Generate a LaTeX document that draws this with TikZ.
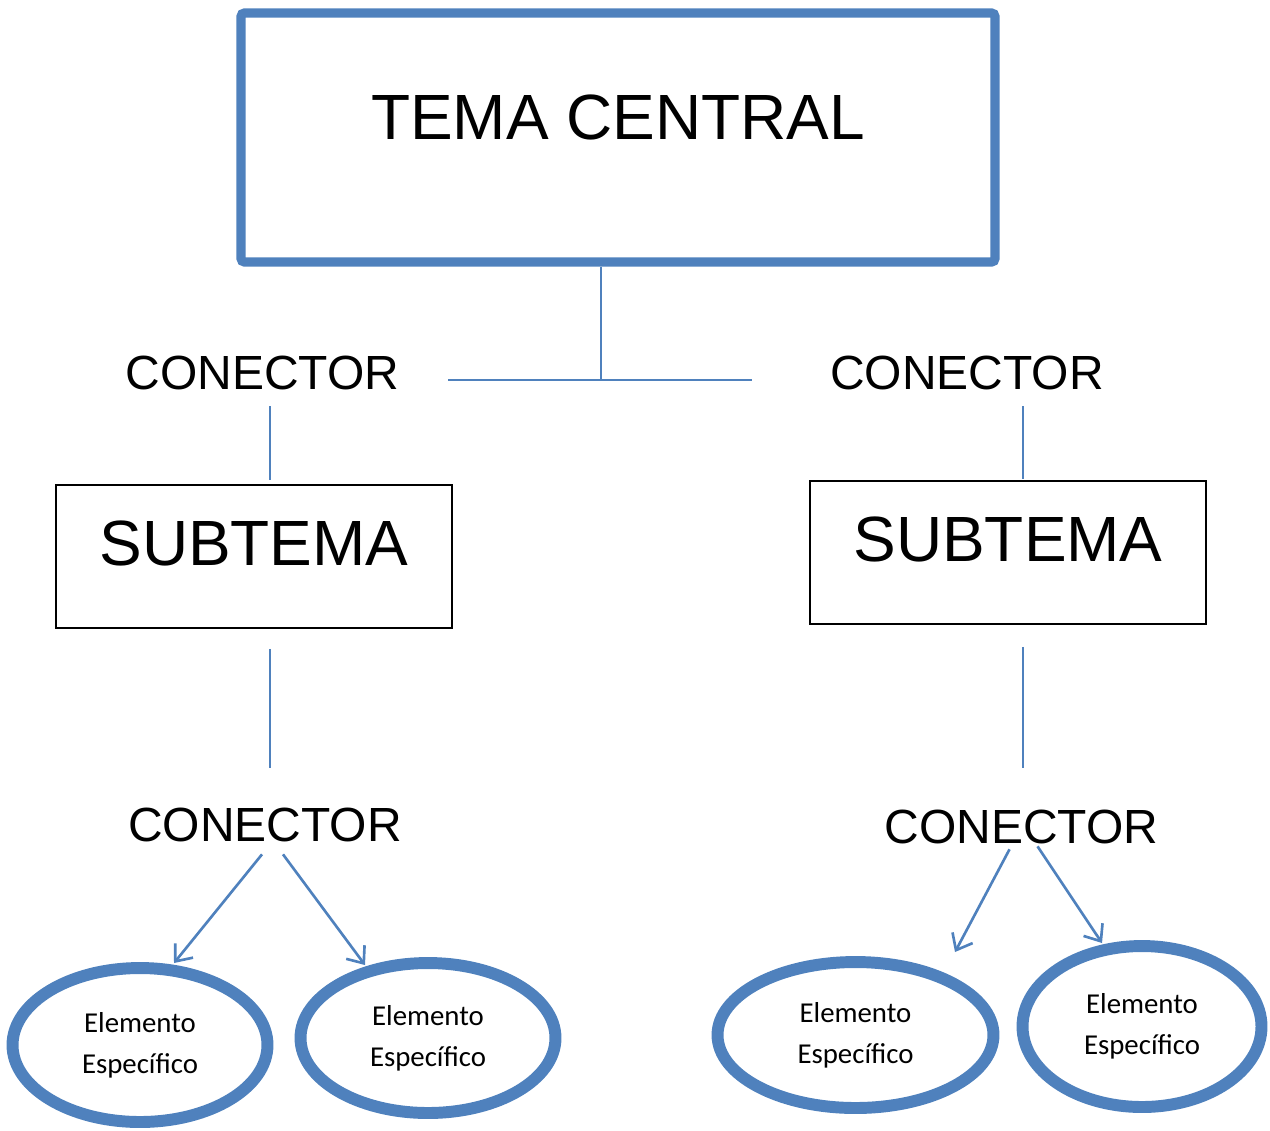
\documentclass[tikz,border=0pt]{standalone}
\usepackage{fontspec}
\setmainfont{Liberation Sans}
\newfontfamily\calfont{Carlito}
\usetikzlibrary{shapes.geometric,arrows.meta,calc}
\definecolor{offblue}{HTML}{4F81BD}
\begin{document}
\begin{tikzpicture}[x=0.02cm,y=-0.02cm,
  bigtext/.style={inner sep=0pt,font=\fontsize{36.4}{40}\selectfont},
  context/.style={inner sep=0pt,font=\fontsize{27.3}{30}\selectfont},
  subbox/.style={draw=black,line width=1.1pt,minimum width=7.92cm,minimum height=2.86cm,inner sep=0pt},
  elem/.style={ellipse,draw=offblue,line width=6.8pt,inner sep=0pt,align=center,
     font=\calfont\fontsize{16.4}{23.2}\selectfont},
  conn/.style={draw=offblue,line width=1.2pt},
  arr/.style={draw=offblue,line width=1.5pt,-{Straight Barb[length=8pt,width=13pt]}}]
\useasboundingbox (0,0) rectangle (1270,1130);
% central box
\node[draw=offblue,line width=5.3pt,rounded corners=2pt,minimum width=15.08cm,minimum height=4.98cm,inner sep=0pt] (top) at (618,137.5) {};
\node[bigtext] (toptext) at (618,117) {TEMA CENTRAL};
% connectors
\node[context] (cl) at (262.5,373) {CONECTOR};
\node[context] (cr) at (967,373) {CONECTOR};
\node[context] (bl) at (265,825) {CONECTOR};
\node[context] (br) at (1021.5,827) {CONECTOR};
% subtopic boxes
\node[subbox] (sl) at (254,556.5) {};
\node[bigtext] (sltext) at (254,543) {SUBTEMA};
\node[subbox] (sr) at (1008,552.5) {};
\node[bigtext] (srtext) at (1008,539) {SUBTEMA};
% elements
\node[elem,minimum width=5.1cm,minimum height=3.08cm] (e1) at (140,1045) {Elemento\\Específico};
\node[elem,minimum width=5.1cm,minimum height=3.0cm] (e2) at (428,1038) {Elemento\\Específico};
\node[elem,minimum width=5.52cm,minimum height=2.92cm] (e3) at (855.5,1035) {Elemento\\Específico};
\node[elem,minimum width=4.78cm,minimum height=3.22cm] (e4) at (1142,1026.5) {Elemento\\Específico};
% top lines
\coordinate (hub) at (601,380);
\coordinate (hl) at (448,380);
\coordinate (hr) at (752,380);
\draw[conn] (top.south -| hub) -- (hub);
\draw[conn] (hl) -- (hr);
% vertical lines
\coordinate (xl) at (270,0);
\coordinate (xr) at (1023,0);
\draw[conn] ($(cl.south -| xl)+(0,16)$) -- ($(sl.north -| xl)+(0,-4)$);
\draw[conn] ($(cr.south -| xr)+(0,16)$) -- ($(sr.north -| xr)+(0,-1)$);
\draw[conn] ($(sl.south -| xl)+(0,20)$) -- ($(bl.north -| xl)+(0,-40)$);
\draw[conn] ($(sr.south -| xr)+(0,22)$) -- ($(br.north -| xr)+(0,-42)$);
% arrows
\draw[arr] ($(bl.south)+(-3,12)$) -- ($(e1.center)+(34,-82)$);
\draw[arr] ($(bl.south)+(18,12)$) -- ($(e2.center)+(-63,-73)$);
\draw[arr] ($(br.south)+(-12,5)$) -- ($(e3.center)+(99.5,-83)$);
\draw[arr] ($(br.south)+(16,2)$) -- ($(e4.center)+(-40,-83.5)$);
\end{tikzpicture}
\end{document}
